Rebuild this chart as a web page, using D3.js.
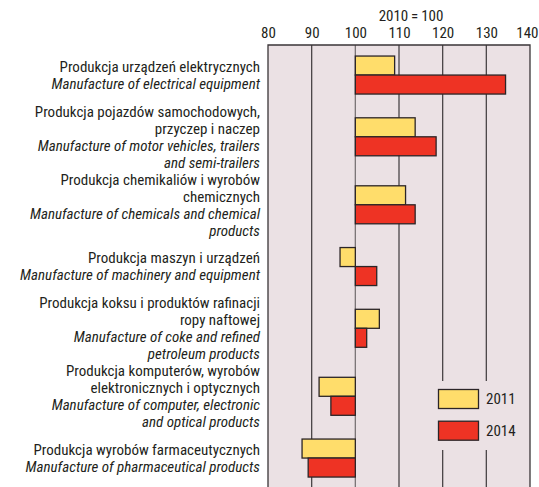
<!DOCTYPE html>
<html>
<head>
<meta charset="utf-8">
<script src="https://cdn.jsdelivr.net/npm/d3@7"></script>
<style>
  html, body { margin: 0; padding: 0; background: #ffffff; }
  svg { display: block; }
  text { font-family: "Liberation Sans Narrow", "Arial Narrow", "Roboto Condensed", "Liberation Sans", sans-serif; fill: #231f20; }
</style>
</head>
<body>
<svg id="chart" width="539" height="487"></svg>
<script>
// ---- data ----
const labelsPL = [
  ["Produkcja urządzeń elektrycznych"],
  ["Produkcja pojazdów samochodowych,", "przyczep i naczep"],
  ["Produkcja chemikaliów i wyrobów", "chemicznych"],
  ["Produkcja maszyn i urządzeń"],
  ["Produkcja koksu i produktów rafinacji", "ropy naftowej"],
  ["Produkcja komputerów, wyrobów", "elektronicznych i optycznych"],
  ["Produkcja wyrobów farmaceutycznych"]
];
const labelsEN = [
  ["Manufacture of electrical equipment"],
  ["Manufacture of motor vehicles, trailers", "and semi-trailers"],
  ["Manufacture of chemicals and chemical", "products"],
  ["Manufacture of machinery and equipment"],
  ["Manufacture of coke and refined", "petroleum products"],
  ["Manufacture of computer, electronic", "and optical products"],
  ["Manufacture of pharmaceutical products"]
];
const seriesNames = ["2011", "2014"];
const values2011 = [109.0, 113.7, 111.5, 96.5, 105.5, 91.7, 87.8];
const values2014 = [134.4, 118.5, 113.7, 104.9, 102.6, 94.4, 89.2];
const tickValues = [80, 90, 100, 110, 120, 130, 140];
const baseValue = 100;
const axisTitle = "2010\u2009=\u2009100";

// ---- layout ----
const svg = d3.select("#chart");
const plot = { left: 268, right: 530, top: 45, bottom: 490 };
const colors = { "2011": "#ffdd6b", "2014": "#ee3324" };
const bg = "#ebe1e4";
const fontSize = 15;
const lineH = 17;
const minSlot = 55.5;

const x = d3.scaleLinear().domain([80, 140]).range([plot.left, plot.right]);
const idx = d3.range(labelsPL.length);

// each category takes the height of its label block (at least minSlot)
const slots = idx.map(i => Math.max((labelsPL[i].length + labelsEN[i].length) * lineH, minSlot));
const cum = [0];
slots.forEach(s => cum.push(cum[cum.length - 1] + s));
const yStart = 47.3;
const yScale = d3.scaleLinear().domain([0, cum[cum.length - 1]]).range([yStart, yStart + cum[cum.length - 1]]);
const y = i => yScale(cum[i] + slots[i] / 2);

const barH = 19;
const ySub = d3.scaleBand().domain(seriesNames).range([-barH, barH]).padding(0);

// background
svg.append("rect")
  .attr("x", plot.left).attr("y", plot.top)
  .attr("width", plot.right - plot.left).attr("height", plot.bottom - plot.top)
  .attr("fill", bg);

// grid lines
svg.append("g").selectAll("line")
  .data(tickValues.filter(t => t > 80 && t < 140))
  .join("line")
  .attr("x1", d => x(d)).attr("x2", d => x(d))
  .attr("y1", plot.top).attr("y2", plot.bottom)
  .attr("stroke", d => d === baseValue ? "#7a7476" : "#4a4547")
  .attr("stroke-width", 1.3);

// frame
svg.append("path")
  .attr("d", `M${plot.left},${plot.bottom}V${plot.top}H${plot.right}V${plot.bottom}`)
  .attr("fill", "none").attr("stroke", "#3a3537").attr("stroke-width", 1.3);

// top axis
const axis = d3.axisTop(x).tickValues(tickValues).tickSize(0).tickPadding(0);
const ag = svg.append("g").attr("transform", `translate(0,38)`).call(axis);
ag.select(".domain").remove();
ag.selectAll("text").attr("font-size", fontSize).attr("fill", "#231f20")
  .style("font-family", null)
  .attr("text-anchor", d => d === 140 ? "end" : "middle")
  .attr("x", d => d === 140 ? 538 - x(d) : 0);

svg.append("text").attr("x", 411).attr("y", 21)
  .attr("text-anchor", "middle").attr("font-size", fontSize).text(axisTitle);

// bars
const rows = idx.map(i => ({ i, vals: [ {s: "2011", v: values2011[i]}, {s: "2014", v: values2014[i]} ] }));
const bars = svg.append("g").selectAll("g").data(rows).join("g")
  .attr("transform", d => `translate(0,${y(d.i)})`);
bars.selectAll("rect").data(d => d.vals).join("rect")
  .attr("x", d => x(Math.min(d.v, baseValue)))
  .attr("width", d => Math.abs(x(d.v) - x(baseValue)))
  .attr("y", d => ySub(d.s))
  .attr("height", ySub.bandwidth())
  .attr("fill", d => colors[d.s])
  .attr("stroke", "#2b2527").attr("stroke-width", 1.3);

// category labels
const lg = svg.append("g");
idx.forEach(i => {
  const lines = labelsPL[i].map(t => ({ t, it: false })).concat(labelsEN[i].map(t => ({ t, it: true })));
  const n = lines.length;
  lines.forEach((ln, k) => {
    lg.append("text")
      .attr("x", 260)
      .attr("y", y(i) + (k - (n - 1) / 2) * lineH)
      .attr("dy", "0.36em")
      .attr("text-anchor", "end")
      .attr("font-size", fontSize)
      .attr("font-style", ln.it ? "italic" : "normal")
      .text(ln.t);
  });
});

// legend
const leg = svg.append("g");
leg.append("rect").attr("x", 432).attr("y", 381).attr("width", 89).attr("height", 69).attr("fill", bg);
seriesNames.forEach((s, k) => {
  const yy = 389.5 + k * 31.7;
  leg.append("rect").attr("x", 438.5).attr("y", yy).attr("width", 40).attr("height", 19)
    .attr("fill", colors[s]).attr("stroke", "#2b2527").attr("stroke-width", 1.3);
  leg.append("text").attr("x", 486).attr("y", yy + 9.5).attr("dy", "0.36em")
    .attr("font-size", fontSize).text(s);
});
</script>
</body>
</html>
